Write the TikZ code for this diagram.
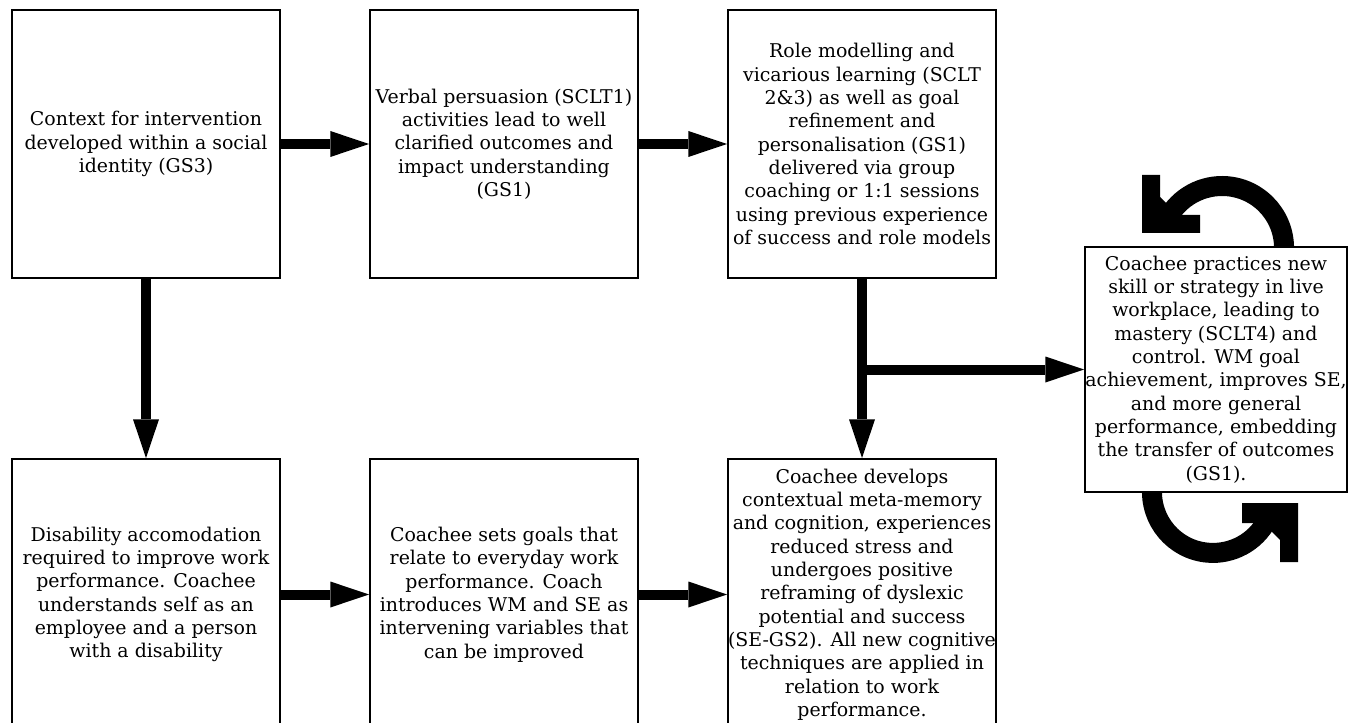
\documentclass[tikz,border=0pt]{standalone}
\usepackage{fontspec}
\setmainfont{DejaVu Serif}
\usetikzlibrary{arrows.meta}
\tikzset{
  box/.style={draw=black, line width=1.5pt, fill=white, rectangle, inner sep=0pt,
    align=center, font=\fontsize{14.2pt}{17.5pt}\selectfont,
    minimum width=201pt, minimum height=201pt},
  lowbox/.style={box, minimum height=203.25pt},
  bigarrow/.style={line width=7.5pt, -{Triangle[length=29pt,width=19.5pt,line width=0pt]}},
  curved/.style={line width=15pt, line cap=butt},
}
\begin{document}
\begin{tikzpicture}[x=0.75pt,y=-0.75pt]
\useasboundingbox (0,0) rectangle (1348,723);
\clip (0,0) rectangle (1348,723);
% recurring-cycle icons
\draw[curved] (1283.8,253.4) arc[start angle=365, end angle=208, radius=62];
\fill (1142,175) -- (1160,175) -- (1160,215) -- (1200,215) -- (1200,233) -- (1142,233) -- cycle;
\fill (1160,197) -- (1160,216) -- (1179,216) -- cycle;
\draw[curved] (1152.2,486.6) arc[start angle=185, end angle=28, radius=61];
\fill (1298,503) -- (1298,562) -- (1280,562) -- (1280,523) -- (1242,523) -- (1242,503) -- cycle;
\fill (1262,522) -- (1281,522) -- (1281,541) -- cycle;
% boxes
\node[box] (A) at (146,144) {Context for intervention\\developed within a social\\identity (GS3)};
\node[box] (B) at (504,144) {Verbal persuasion (SCLT1)\\activities lead to well\\clarified outcomes and\\impact understanding\\(GS1)};
\node[box] (C) at (862,144) {Role modelling and\\vicarious learning (SCLT\\2\&3) as well as goal\\refinement and\\personalisation (GS1)\\delivered via group\\coaching or 1:1 sessions\\using previous experience\\of success and role models};
\node[lowbox] (D) at (146,594.5) {Disability accomodation\\required to improve work\\performance. Coachee\\understands self as an\\employee and a person\\with a disability};
\node[lowbox] (E) at (504,594.5) {Coachee sets goals that\\relate to everyday work\\performance. Coach\\introduces WM and SE as\\intervening variables that\\can be improved};
\node[lowbox] (F) at (862,594.5) {Coachee develops\\contextual meta-memory\\and cognition, experiences\\reduced stress and\\undergoes positive\\reframing of dyslexic\\potential and success\\(SE-GS2). All new cognitive\\techniques are applied in\\relation to work\\performance.};
\node[box, minimum width=196.5pt, minimum height=183.75pt] (G) at (1216,369.5) {Coachee practices new\\skill or strategy in live\\workplace, leading to\\mastery (SCLT4) and\\control. WM goal\\achievement, improves SE,\\and more general\\performance, embedding\\the transfer of outcomes\\(GS1).};
% connectors
\draw[bigarrow] (A.east) -- (B.west);
\draw[bigarrow] (B.east) -- (C.west);
\draw[bigarrow] (A.south) -- (D.north);
\draw[bigarrow] (D.east) -- (E.west);
\draw[bigarrow] (E.east) -- (F.west);
\draw[bigarrow] (C.south) -- (F.north);
\coordinate (br) at (C.south |- G.west);
\draw[bigarrow] ([xshift=-3.75pt]br) -- (G.west);
\end{tikzpicture}
\end{document}
